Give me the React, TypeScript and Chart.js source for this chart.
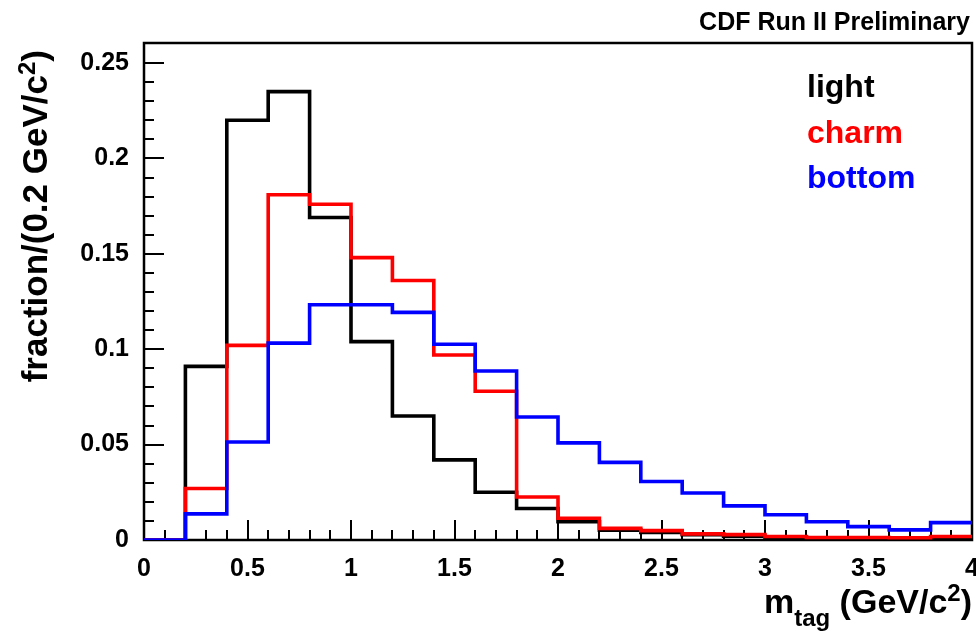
import React, { useEffect, useRef } from "react";
import { Chart, registerables } from "chart.js";

Chart.register(...registerables);

// ---- data ----
const binEdges = [0, 0.2, 0.4, 0.6, 0.8, 1.0, 1.2, 1.4, 1.6, 1.8, 2.0, 2.2, 2.4, 2.6, 2.8, 3.0, 3.2, 3.4, 3.6, 3.8, 4.0];
const lightValues = [0, 0.091, 0.220, 0.235, 0.169, 0.104, 0.065, 0.042, 0.025, 0.0165, 0.0096, 0.0052, 0.004, 0.0028, 0.002, 0.0015, 0.0011, 0.001, 0.001, 0.0012];
const charmValues = [0, 0.027, 0.102, 0.181, 0.176, 0.148, 0.136, 0.097, 0.078, 0.0225, 0.0114, 0.0061, 0.0049, 0.0032, 0.0028, 0.0018, 0.0013, 0.0013, 0.0012, 0.0018];
const bottomValues = [0, 0.0137, 0.0514, 0.1032, 0.1233, 0.1233, 0.1193, 0.1026, 0.0886, 0.0645, 0.0509, 0.0407, 0.0307, 0.0246, 0.0179, 0.0132, 0.0096, 0.007, 0.0053, 0.0091];
const xTickValues = [0, 0.5, 1, 1.5, 2, 2.5, 3, 3.5, 4];
const yTickValues = [0, 0.05, 0.1, 0.15, 0.2, 0.25];
const seriesLabels = ["light", "charm", "bottom"];
const seriesColors = ["#000000", "#ff0000", "#0000ff"];
const titleText = "CDF Run II Preliminary";

const FONT = "'Liberation Sans', Arial, Helvetica, sans-serif";

function toSteps(values: number[]) {
  const pts = values.map((v, i) => ({ x: binEdges[i], y: v }));
  pts.push({ x: binEdges[values.length], y: values[values.length - 1] });
  return pts;
}

type Part = { text: string; size: number; dy: number };

function drawRich(ctx: CanvasRenderingContext2D, parts: Part[], xRight: number, baseline: number) {
  let total = 0;
  const widths = parts.map((p) => {
    ctx.font = `bold ${p.size}px ${FONT}`;
    const w = ctx.measureText(p.text).width;
    total += w;
    return w;
  });
  let x = xRight - total;
  parts.forEach((p, i) => {
    ctx.font = `bold ${p.size}px ${FONT}`;
    ctx.fillText(p.text, x, baseline + p.dy);
    x += widths[i];
  });
}

const decorPlugin = {
  id: "decor",
  beforeDatasetsDraw(chart: any) {
    const ctx: CanvasRenderingContext2D = chart.ctx;
    const { left, right, top, bottom } = chart.chartArea;
    const xs = chart.scales.x;
    const ys = chart.scales.y;
    ctx.save();
    ctx.strokeStyle = "#000";
    ctx.lineWidth = 2;
    ctx.beginPath();
    for (let i = 1; i <= 25; i++) {
      const y = Math.round(ys.getPixelForValue(i / 100));
      const len = i % 5 === 0 ? 20 : 10;
      ctx.moveTo(left, y);
      ctx.lineTo(left + len, y);
    }
    for (let i = 1; i < 40; i++) {
      const x = Math.round(xs.getPixelForValue(i / 10));
      const len = i % 5 === 0 ? 20 : 10;
      ctx.moveTo(x, bottom);
      ctx.lineTo(x, bottom - len);
    }
    ctx.stroke();
    ctx.lineWidth = 2.5;
    ctx.strokeRect(left, top, right - left, bottom - top);
    ctx.restore();
  },
  afterDraw(chart: any) {
    const ctx: CanvasRenderingContext2D = chart.ctx;
    ctx.save();
    ctx.fillStyle = "#000";
    ctx.textBaseline = "alphabetic";
    // title
    ctx.textAlign = "right";
    ctx.font = `bold 25px ${FONT}`;
    ctx.fillText(titleText, 970, 30);
    // legend
    ctx.textAlign = "left";
    ctx.font = `bold 32px ${FONT}`;
    const baselines = [97, 143, 188];
    seriesLabels.forEach((t, i) => {
      ctx.fillStyle = seriesColors[i];
      ctx.fillText(t, 807, baselines[i]);
    });
    ctx.fillStyle = "#000";
    // x title
    drawRich(
      ctx,
      [
        { text: "m", size: 34, dy: 0 },
        { text: "tag", size: 24, dy: 13 },
        { text: " (GeV/c", size: 34, dy: 0 },
        { text: "2", size: 24, dy: -12 },
        { text: ")", size: 34, dy: 0 },
      ],
      972,
      613
    );
    // y title (rotated)
    ctx.save();
    ctx.translate(47, 50);
    ctx.rotate(-Math.PI / 2);
    drawRich(
      ctx,
      [
        { text: "fraction/(0.2 GeV/c", size: 35, dy: 0 },
        { text: "2", size: 24, dy: -12 },
        { text: ")", size: 35, dy: 0 },
      ],
      0,
      0
    );
    ctx.restore();
    ctx.restore();
  },
};

export default function App() {
  const ref = useRef<HTMLCanvasElement | null>(null);

  useEffect(() => {
    document.body.style.margin = "0";
    const canvas = ref.current;
    if (!canvas) return;
    const seriesValues = [lightValues, charmValues, bottomValues];
    const chart = new Chart(canvas, {
      type: "line",
      data: {
        datasets: seriesValues.map((vals, i) => ({
          label: seriesLabels[i],
          data: toSteps(vals),
          stepped: "before" as const,
          borderColor: seriesColors[i],
          borderWidth: 3.6,
          pointRadius: 0,
          fill: false,
          order: 3 - i,
          borderJoinStyle: "miter" as const,
          borderCapStyle: "butt" as const,
        })),
      },
      options: {
        animation: false,
        responsive: false,
        maintainAspectRatio: false,
        devicePixelRatio: 1,
        layout: { padding: { top: 43, right: 4, left: 0, bottom: 0 } },
        plugins: {
          legend: { display: false },
          tooltip: { enabled: false },
          title: { display: false },
        },
        scales: {
          x: {
            type: "linear",
            min: 0,
            max: 4,
            afterFit: (s: any) => {
              s.height = 93;
              s.paddingLeft = 0;
              s.paddingRight = 0;
            },
            afterBuildTicks: (s: any) => {
              s.ticks = xTickValues.map((v) => ({ value: v }));
            },
            grid: { display: false, drawTicks: false },
            border: { display: false },
            ticks: {
              padding: 14,
              color: "#000",
              maxRotation: 0,
              autoSkip: false,
              font: { family: FONT, size: 25, weight: "bold" },
              callback: (v: any) => String(+Number(v).toFixed(2)),
            },
          },
          y: {
            type: "linear",
            min: 0,
            max: 0.2605,
            afterFit: (s: any) => {
              s.width = 144;
              s.paddingTop = 0;
              s.paddingBottom = 0;
            },
            afterBuildTicks: (s: any) => {
              s.ticks = yTickValues.map((v) => ({ value: v }));
            },
            grid: { display: false, drawTicks: false },
            border: { display: false },
            ticks: {
              padding: 15,
              color: "#000",
              autoSkip: false,
              font: { family: FONT, size: 25, weight: "bold" },
              callback: (v: any) => String(+Number(v).toFixed(2)),
            },
          },
        },
      },
      plugins: [decorPlugin],
    });
    return () => chart.destroy();
  }, []);

  return (
    <div style={{ width: 976, height: 633, background: "#fff" }}>
      <canvas ref={ref} width={976} height={633} style={{ display: "block" }} />
    </div>
  );
}
